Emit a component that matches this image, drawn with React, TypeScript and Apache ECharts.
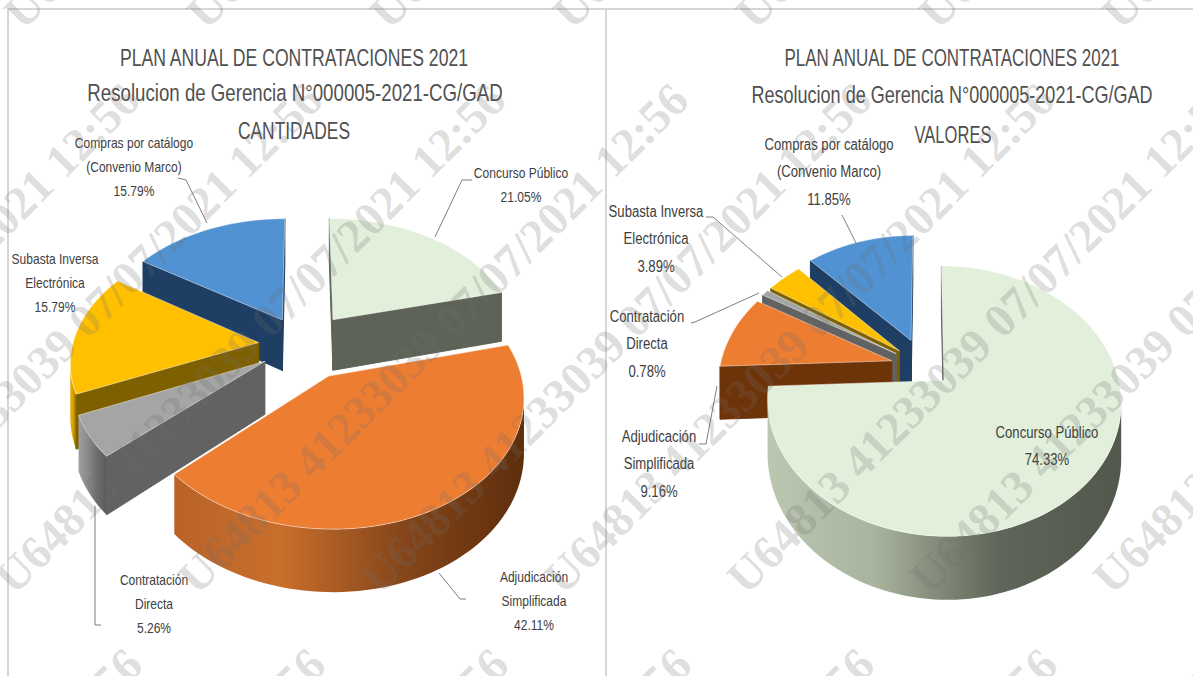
import React, { useEffect, useRef } from "react";
import * as echarts from "echarts";

const categories = [
  "Concurso Público",
  "Adjudicación\nSimplificada",
  "Contratación\nDirecta",
  "Subasta Inversa\nElectrónica",
  "Compras por catálogo\n(Convenio Marco)",
];
const cantidades = [21.05, 42.11, 5.26, 15.79, 15.79];
const valores = [74.33, 9.16, 0.78, 3.89, 11.85];
const titleLine1 = "PLAN ANUAL DE CONTRATACIONES 2021";
const titleLine2 = "Resolucion de Gerencia N°000005-2021-CG/GAD";
const leftSubtitle = "CANTIDADES";
const rightSubtitle = "VALORES";
const watermarkText = "U64813 41233039 07/07/2021 12:56";

const FONT = "'Liberation Sans', sans-serif";

const palette = [
  { top: "#E2EFDA", wall: "#5E6357", side: ["#BCC7B2", "#A9B49E", "#5F6558", "#52584C"] },
  { top: "#ED7D31", wall: "#6E3409", side: ["#B9632A", "#C96F2C", "#85461A", "#5E2E0C"] },
  { top: "#A5A5A5", wall: "#626262", side: ["#A0A0A0", "#8C8C8C", "#6E6E6E", "#5A5A5A"] },
  { top: "#FFC000", wall: "#7F6000", side: ["#D9A300", "#E6AE00", "#BF9000", "#A67D00"] },
  { top: "#5092D2", wall: "#1E3F63", side: ["#2A639B", "#2E6CA8", "#235387", "#1E3F63"] },
];

const leftLayout = {
  cx: 303, cy: 345, R: 186, Ry: 122, k: 0.14, depth: 52,
  explode: [0.27, 0.28, 0.24, 0.24, 0.24],
  zOrder: [1, 5, 4, 3, 2],
  fontSize: 14, lineHeight: 24, labelScale: 0.86,
  labels: [[521, 185], [534, 601], [154, 604], [55, 283], [134, 167]],
  leaders: [
    [[435, 237], [462, 180], [472, 180]],
    [[439, 573], [460, 599], [466, 599]],
    [[95, 506], [95, 625], [101, 625]],
    [],
    [[207, 223], [186, 180], [178, 178]],
  ],
};
const rightLayout = {
  cx: 925, cy: 367, R: 172, Ry: 128, k: 0.15, depth: 53,
  explode: [0.15, 0.2, 0.2, 0.2, 0.23],
  zOrder: [5, 4, 3, 2, 1],
  fontSize: 16, lineHeight: 27.5, labelScale: 0.82,
  labels: [[1047, 446], [659, 464], [647, 344], [656, 239], [829, 172]],
  leaders: [
    [],
    [[699, 444], [706, 444], [717, 386]],
    [[691, 323], [695, 322], [759, 293]],
    [[706, 217], [713, 217], [782, 277]],
    [[842, 215], [857, 245]],
  ],
};

// centre x, centre y, horizontal squeeze of each title line
const titleLayout = [
  { text: titleLine1, x: 294, y: 57, sx: 0.734 },
  { text: titleLine2, x: 295, y: 93, sx: 0.778 },
  { text: leftSubtitle, x: 294, y: 130, sx: 0.725 },
  { text: titleLine1, x: 952, y: 57, sx: 0.707 },
  { text: titleLine2, x: 952, y: 95, sx: 0.752 },
  { text: rightSubtitle, x: 953, y: 134, sx: 0.69 },
];

function pieSeries(values: number[], layout: any) {
  const total = values.reduce((a, b) => a + b, 0);
  const project = (X: number, Z: number, h: number) => {
    const s = 1 / (1 - layout.k * Z);
    return [layout.cx + layout.R * X * s, layout.cy + layout.Ry * Z * s + h * layout.depth * s];
  };
  const renderItem = (params: any, api: any) => {
    const i = params.dataIndex;
    const value = api.value(0);
    let before = 0;
    for (let j = 0; j < i; j++) before += values[j];
    const a0 = (before / total) * 2 * Math.PI;
    const a1 = ((before + value) / total) * 2 * Math.PI;
    const mid = (a0 + a1) / 2;
    const e = layout.explode[i];
    const ox = e * Math.sin(mid);
    const oz = -e * Math.cos(mid);
    const steps = Math.max(2, Math.ceil((a1 - a0) / (Math.PI / 90)));
    const world: number[][] = [[ox, oz]];
    for (let n = 0; n <= steps; n++) {
      const t = a0 + ((a1 - a0) * n) / steps;
      world.push([ox + Math.sin(t), oz - Math.cos(t)]);
    }
    const topPts = world.map((p) => project(p[0], p[1], 0));
    const botPts = world.map((p) => project(p[0], p[1], 1));
    const colors = palette[i];
    const z = layout.zOrder[i] * 5;
    const children: any[] = [];

    // curved outer wall: every contiguous run of arc edges that faces the viewer
    let run: number[] = [];
    const flush = () => {
      if (run.length > 1) {
        const upper = run.map((n) => topPts[n]);
        const lower = run.map((n) => botPts[n]).reverse();
        children.push({
          type: "polygon",
          z2: z,
          shape: { points: upper.concat(lower) },
          style: {
            fill: new echarts.graphic.LinearGradient(0, 0, 1, 0, [
              { offset: 0, color: colors.side[0] },
              { offset: 0.3, color: colors.side[1] },
              { offset: 0.65, color: colors.side[2] },
              { offset: 1, color: colors.side[3] },
            ]),
          },
        });
      }
      run = [];
    };
    for (let n = 1; n < topPts.length - 1; n++) {
      if (topPts[n + 1][0] < topPts[n][0]) {
        if (!run.length) run.push(n);
        run.push(n + 1);
      } else flush();
    }
    flush();

    // the two straight cut faces
    const last = topPts.length - 1;
    const cut = (p: number, q: number) => {
      if (topPts[q][0] < topPts[p][0]) {
        children.push({
          type: "polygon",
          z2: z + 1,
          shape: { points: [topPts[p], topPts[q], botPts[q], botPts[p]] },
          style: { fill: colors.wall, stroke: colors.wall, lineWidth: 1 },
        });
      }
    };
    cut(0, 1);
    cut(last, 0);

    children.push({
      type: "polygon",
      z2: z + 2,
      shape: { points: topPts },
      style: { fill: colors.top, stroke: "rgba(255,255,255,0.45)", lineWidth: 1 },
    });

    const leader = layout.leaders[i];
    if (leader.length) {
      children.push({
        type: "polyline",
        z2: 60,
        shape: { points: leader },
        style: { stroke: "#7F7F7F", lineWidth: 1, fill: "none" },
      });
    }
    const pos = layout.labels[i];
    children.push({
      type: "text",
      z2: 70,
      x: pos[0],
      y: pos[1],
      scaleX: layout.labelScale,
      style: {
        text: `${categories[i]}\n${value.toFixed(2)}%`,
        fontFamily: FONT,
        fontSize: layout.fontSize,
        lineHeight: layout.lineHeight,
        align: "center",
        verticalAlign: "middle",
        fill: "#404040",
      },
    });
    return { type: "group", children };
  };
  return {
    type: "custom",
    coordinateSystem: "none",
    silent: true,
    data: values.map((v) => [v]),
    renderItem,
  };
}

function watermarks() {
  const out: any[] = [];
  const rows = [20, 585, 1150];
  for (const y of rows) {
    for (let c = -6; c < 12; c++) {
      const x = 186 + 183 * c + (y === 20 ? 9 : y === 1150 ? 3 : 0);
      const endX = x + 515;
      const endY = y - 510;
      if (x > 1230 || endX < -40 || y < -40 || endY > 716) continue;
      out.push({
        type: "text",
        z: 100,
        x,
        y,
        rotation: Math.PI / 4,
        silent: true,
        style: {
          text: watermarkText,
          fontFamily: "'Liberation Serif', serif",
          fontWeight: "bold",
          fontSize: 47,
          fill: "rgba(110,110,110,0.24)",
          verticalAlign: "middle",
        },
      });
    }
  }
  return out;
}

function frame() {
  const stroke = { stroke: "#D6D6D6", lineWidth: 2 };
  return [
    { type: "line", shape: { x1: 7, y1: 9, x2: 1193, y2: 9 }, style: stroke },
    { type: "line", shape: { x1: 8, y1: 9, x2: 8, y2: 676 }, style: stroke },
    { type: "line", shape: { x1: 606, y1: 9, x2: 606, y2: 676 }, style: stroke },
  ];
}

function titles() {
  return titleLayout.map((t) => ({
    type: "text",
    z: 50,
    x: t.x,
    y: t.y,
    scaleX: t.sx,
    silent: true,
    style: {
      text: t.text,
      fontFamily: FONT,
      fontSize: 24,
      fill: "#505050",
      align: "center",
      verticalAlign: "middle",
    },
  }));
}

export default function App() {
  const ref = useRef<HTMLDivElement>(null);
  useEffect(() => {
    if (!ref.current) return;
    const chart = echarts.init(ref.current, undefined, { renderer: "svg" });
    chart.setOption({
      animation: false,
      backgroundColor: "#ffffff",
      graphic: { elements: [...frame(), ...titles(), ...watermarks()] },
      series: [pieSeries(cantidades, leftLayout), pieSeries(valores, rightLayout)],
    });
    return () => chart.dispose();
  }, []);
  return <div ref={ref} style={{ position: "fixed", left: 0, top: 0, width: 1193, height: 676 }} />;
}
